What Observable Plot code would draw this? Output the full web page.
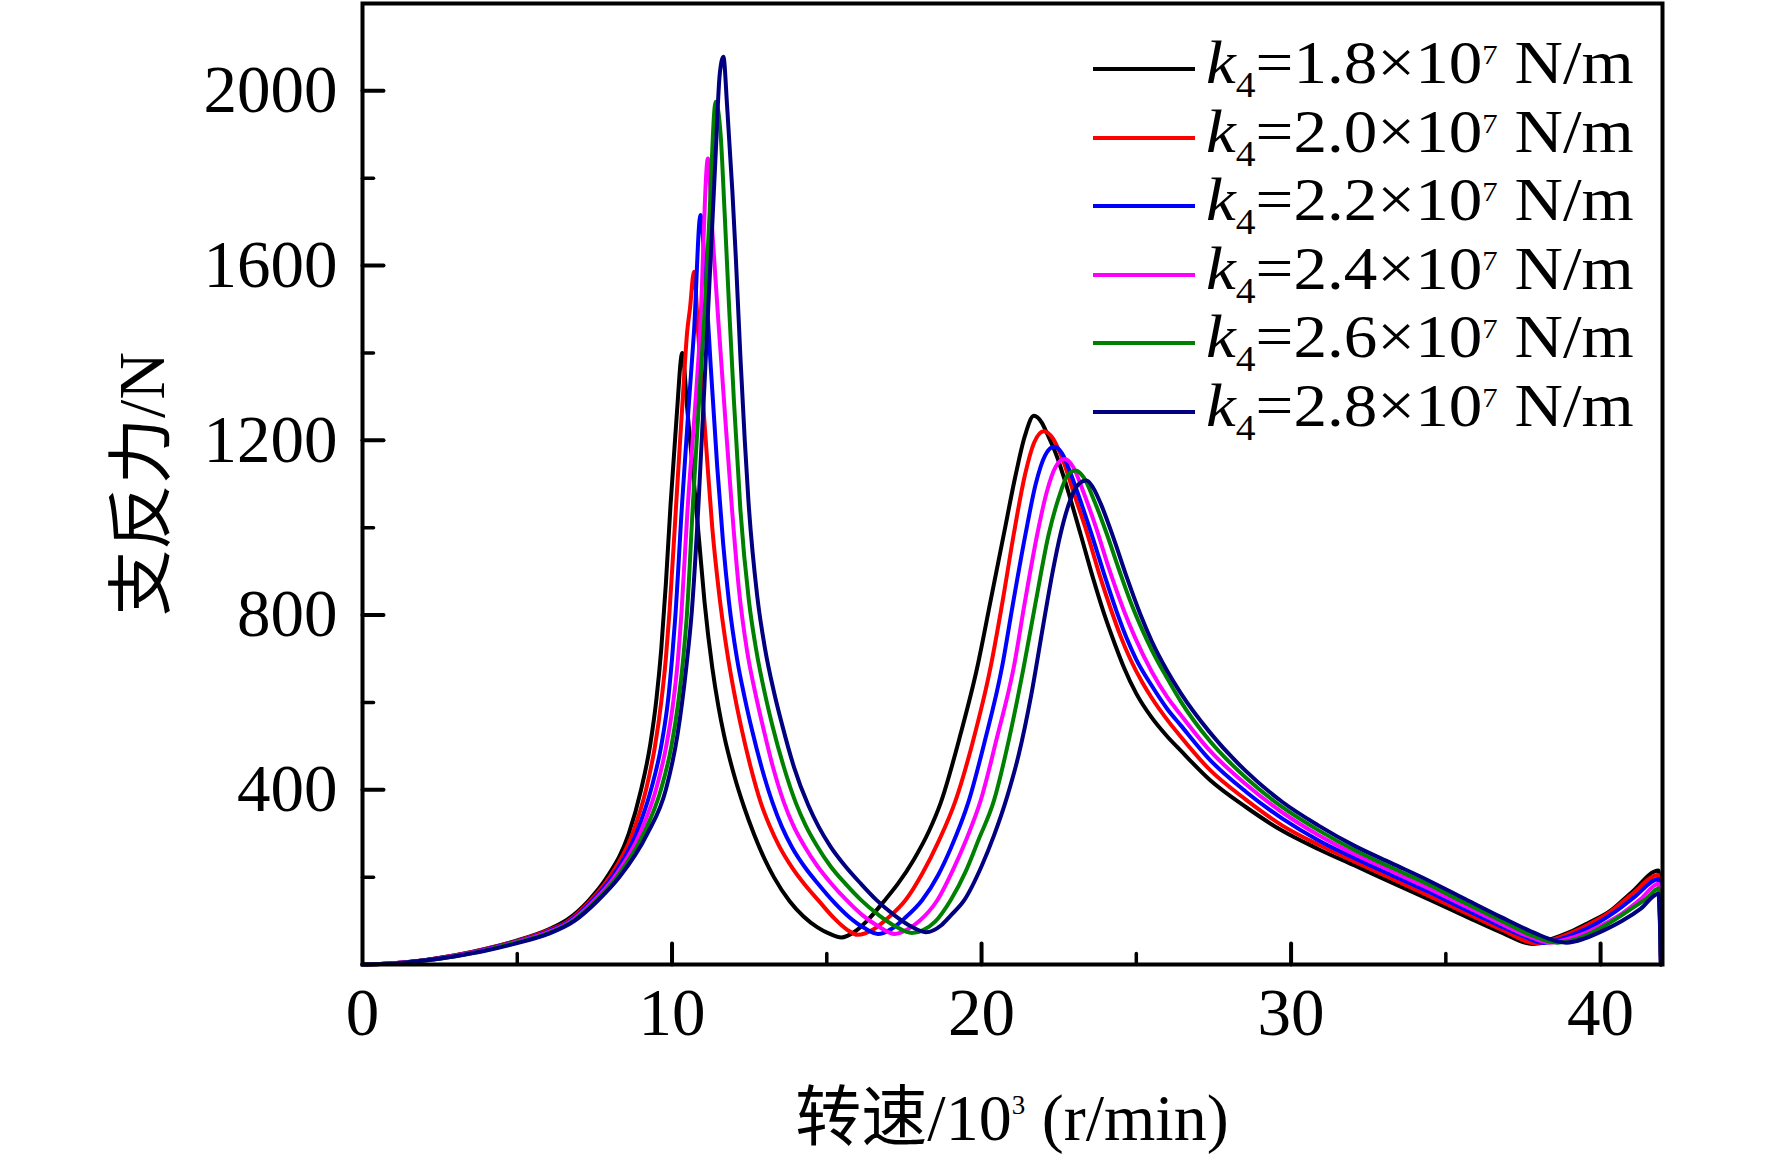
<!DOCTYPE html>
<html><head><meta charset="utf-8">
<script src="https://cdn.jsdelivr.net/npm/d3@7"></script>
<script src="https://cdn.jsdelivr.net/npm/@observablehq/plot@0.6"></script>
<style>
html,body{margin:0;padding:0;background:#fff;overflow:hidden;}
#wrap{position:relative;width:1772px;height:1157px;font-family:"Liberation Serif","Times New Roman","Noto Sans CJK SC",serif;color:#000;}
#wrap svg{position:absolute;left:0;top:0;}
.leg-line{position:absolute;height:4px;width:102px;}
.leg-text{position:absolute;font-size:61px;line-height:61px;white-space:nowrap;transform:scaleX(1.1);transform-origin:0 50%;}
.sub{font-size:36px;position:relative;top:14px;}
.sup{font-size:28px;position:relative;top:-19px;}
#xtitle{position:absolute;left:362px;width:1300px;text-align:center;font-size:66px;line-height:66px;white-space:nowrap;}
#xtitle .sup3{font-size:27px;position:relative;top:-26px;}
</style></head><body><div id="wrap"></div><script>
// 支反力 (N) versus 转速 (10^3 r/min), one array per k4 value: [speed, force]
const k18 = [[0,0],[1,3],[2,10],[3,21],[4,36],[5,55],[6,80],[6.6,102],[7.3,146],[7.9,200],[8.6,299],[9.0,400],[9.3,505],[9.5,610],[9.65,720],[9.8,870],[9.95,1050],[10.15,1255],[10.33,1400],
  [10.5,1265],[10.7,1110],[10.87,975],[11.05,830],[11.3,680],[11.5,590],[11.68,525],[12.0,435],[12.33,360],[12.64,300],[13.0,240],[13.29,200],[13.8,145],[14.25,110],[14.7,85],[15.1,70],[15.47,62],
  [15.9,75],[16.3,100],[16.85,145],[17.3,185],[17.81,240],[18.3,305],[18.68,370],[19.32,527],[19.86,680],[20.29,832],[20.72,985],[21.1,1120],[21.4,1210],[21.69,1256],
  [21.95,1240],[22.12,1215],[22.45,1160],[22.66,1115],[23.2,985],[23.6,885],[23.95,805],[24.3,735],[24.6,680],[25.0,620],[25.5,565],[26.0,522],[26.43,490],[27.37,423],[28.55,360],[29.72,306],[30.89,264],[32.07,226],[33.24,188],[34.42,150],[35.59,112],[36.77,74],[37.8,47],
  [38.4,58],[39.0,74],[39.6,95],[40.3,122],[41.0,165],[41.87,215],[41.95,0]];
const k20 = [[0,0],[1,3],[2,10],[3,21],[4,36],[5,54],[6,78],[6.65,100],[7.36,146],[7.98,200],[8.72,299],[9.16,400],[9.45,500],[9.65,600],[9.8,700],[9.92,809],[10.14,1061],[10.35,1300],[10.49,1449],[10.58,1502],[10.71,1586],
  [10.85,1440],[11.0,1290],[11.14,1150],[11.3,1000],[11.52,850],[11.77,720],[12.0,625],[12.23,545],[12.53,455],[12.87,370],[13.15,318],[13.47,270],[13.88,222],[14.3,182],[14.75,145],[15.25,105],[15.65,80],[16.0,68],
  [16.5,80],[17.0,108],[17.54,147],[18.1,210],[18.6,280],[19.16,375],[19.7,505],[20.29,680],[20.7,840],[21.04,985],[21.4,1120],[21.7,1195],[22.01,1221],
  [22.3,1205],[22.6,1160],[23.0,1075],[23.4,990],[23.8,895],[24.17,815],[24.5,750],[24.8,700],[25.2,645],[25.5,610],[26.0,560],[26.43,522],[27.37,446],[28.55,377],[29.72,318],[30.89,274],[32.07,235],[33.24,197],[34.42,158],[35.59,120],[36.77,81],[37.95,48],
  [38.5,58],[39.1,74],[39.7,95],[40.3,120],[41.0,160],[41.87,205],[41.95,0]];
const k22 = [[0,0],[1,3],[2,10],[3,20],[4,35],[5,53],[6,76],[6.7,100],[7.42,146],[8.06,200],[8.84,299],[9.32,400],[9.65,500],[9.88,610],[10.0,700],[10.1,790],[10.33,1061],[10.55,1290],[10.71,1449],[10.92,1716],
  [11.08,1570],[11.25,1370],[11.46,1140],[11.65,965],[11.84,830],[12.1,700],[12.35,610],[12.59,535],[12.9,450],[13.25,370],[13.55,315],[13.88,268],[14.3,222],[14.75,182],[15.2,145],[15.7,110],[16.2,84],[16.65,70],
  [17.1,82],[17.5,105],[18.08,147],[18.6,205],[19.0,265],[19.59,375],[20.1,510],[20.66,680],[21.0,820],[21.42,985],[21.75,1100],[22.05,1165],[22.34,1185],
  [22.6,1170],[22.9,1120],[23.25,1050],[23.6,975],[24.0,885],[24.38,805],[24.7,745],[25.0,698],[25.5,638],[26.0,585],[26.43,548],[27.37,469],[28.55,395],[29.72,334],[30.89,284],[32.07,243],[33.24,205],[34.42,167],[35.59,127],[36.77,88],[37.6,62],[38.15,49],
  [38.7,58],[39.3,74],[39.9,95],[40.5,122],[41.1,155],[41.87,195],[41.95,0]];
const k24 = [[0,0],[1,3],[2,9],[3,20],[4,34],[5,52],[6,74],[6.75,100],[7.48,146],[8.14,200],[8.96,299],[9.48,400],[9.8,495],[10.02,590],[10.18,690],[10.3,800],[10.5,1040],[10.75,1280],[10.9,1440],[11.16,1845],
  [11.3,1680],[11.5,1470],[11.72,1250],[11.94,1040],[12.16,860],[12.42,720],[12.68,625],[12.92,550],[13.25,455],[13.62,370],[13.92,318],[14.27,272],[14.7,225],[15.15,185],[15.6,150],[16.15,113],[16.65,88],[17.2,70],
  [17.6,80],[18.0,100],[18.57,147],[19.1,220],[19.5,285],[19.97,375],[20.5,520],[21.04,680],[21.4,830],[21.8,985],[22.1,1080],[22.4,1140],[22.68,1157],
  [22.95,1140],[23.3,1080],[23.7,1000],[24.1,910],[24.6,810],[24.95,750],[25.5,670],[26.0,612],[26.43,572],[27.37,490],[28.55,412],[29.72,348],[30.89,296],[32.07,252],[33.24,214],[34.42,175],[35.59,135],[36.77,94],[37.7,64],[38.35,50],
  [38.9,58],[39.5,72],[40.1,92],[40.7,117],[41.3,150],[41.87,185],[41.95,0]];
const k26 = [[0,0],[1,2],[2,9],[3,19],[4,33],[5,51],[6,72],[6.8,100],[7.54,146],[8.22,200],[9.08,299],[9.64,400],[9.98,500],[10.2,600],[10.36,700],[10.48,800],[10.68,1061],[10.9,1320],[11.05,1490],[11.2,1700],[11.41,1975],
  [11.57,1900],[11.7,1720],[11.84,1510],[12.0,1290],[12.21,1040],[12.48,835],[12.72,720],[13.0,620],[13.25,545],[13.6,455],[14.0,370],[14.32,318],[14.68,272],[15.12,225],[15.6,185],[16.1,148],[16.7,112],[17.2,88],[17.75,72],
  [18.1,78],[18.5,98],[19.0,147],[19.5,215],[19.9,285],[20.4,375],[20.9,520],[21.36,680],[21.75,830],[22.17,985],[22.5,1070],[22.78,1120],[23.04,1131],
  [23.3,1115],[23.65,1060],[24.05,985],[24.45,902],[24.87,820],[25.2,765],[25.5,720],[26.0,655],[26.43,603],[27.37,512],[28.55,427],[29.72,360],[30.89,307],[32.07,261],[33.24,222],[34.42,184],[35.59,142],[36.77,101],[37.8,66],[38.6,50],
  [39.2,58],[39.8,76],[40.4,100],[41.0,128],[41.5,152],[41.87,174],[41.95,0]];
const k28 = [[0,0],[1,2],[2,9],[3,19],[4,32],[5,49],[6,70],[6.85,100],[7.6,146],[8.3,200],[9.2,299],[9.8,400],[10.18,527],[10.46,680],[10.64,809],[10.86,1061],[11.05,1330],[11.25,1620],[11.4,1840],[11.54,2037],[11.66,2078],
  [11.78,1965],[11.95,1770],[12.06,1620],[12.21,1390],[12.35,1200],[12.47,1060],[12.75,845],[13.0,725],[13.29,625],[13.56,548],[13.94,452],[14.4,365],[14.74,315],[15.12,270],[15.6,225],[16.1,185],[16.6,148],[17.2,112],[17.7,88],[18.2,74],
  [18.7,90],[19.0,112],[19.43,146],[20.0,225],[20.4,295],[20.83,385],[21.2,480],[21.6,615],[22.0,780],[22.3,900],[22.55,985],[22.85,1060],[23.1,1097],[23.39,1108],
  [23.6,1092],[23.85,1055],[24.27,975],[24.7,885],[25.14,800],[25.5,740],[26.0,672],[26.43,622],[27.37,532],[28.55,442],[29.72,372],[30.89,318],[32.07,271],[33.24,232],[34.42,193],[35.59,151],[36.77,109],[37.94,70],[38.5,55],[38.9,50],
  [39.5,60],[40.1,78],[40.7,100],[41.3,128],[41.87,162],[41.95,0]];

const kValues = ["1.8", "2.0", "2.2", "2.4", "2.6", "2.8"];
const seriesColors = ["#000000", "#ff0000", "#0000ff", "#ff00ff", "#008000", "#000080"];
const xTickLabels = [0, 10, 20, 30, 40];
const xMinorTicks = [5, 15, 25, 35];
const xMajorTicks = [10, 20, 30, 40];
const yTickLabels = [400, 800, 1200, 1600, 2000];
const yMinorTicks = [200, 600, 1000, 1400, 1800];
const yTitle = "支反力/N";

const curves = [k18, k20, k22, k24, k26, k28];
const rows = curves.flatMap((pts, i) => pts.map(([s, f]) => ({speed: s, force: f, k: kValues[i]})));

const tickShape = {draw(ctx, l) { ctx.moveTo(0, 0); ctx.lineTo(0, -l); }};
const fontStack = '"Liberation Serif","Times New Roman","Noto Sans CJK SC",serif';

const plot = Plot.plot({
  width: 1772, height: 1157,
  marginLeft: 362, marginRight: 110, marginTop: 3, marginBottom: 193,
  style: {fontFamily: fontStack, fontSize: "67px", background: "transparent", color: "#000"},
  x: {domain: [0, 42]},
  y: {domain: [0, 2200]},
  color: {domain: kValues, range: seriesColors},
  marks: [
    Plot.line(rows, {x: "speed", y: "force", z: "k", stroke: "k", strokeWidth: 4, curve: "monotone-x"}),
    Plot.vector(yTickLabels, {x: 0, y: d => d, length: 21, rotate: 90, anchor: "start", shape: tickShape, stroke: "#000", strokeWidth: 4}),
    Plot.vector(yMinorTicks, {x: 0, y: d => d, length: 11, rotate: 90, anchor: "start", shape: tickShape, stroke: "#000", strokeWidth: 3.5}),
    Plot.vector(xMajorTicks, {x: d => d, y: 0, length: 21, rotate: 0, anchor: "start", shape: tickShape, stroke: "#000", strokeWidth: 4}),
    Plot.vector(xMinorTicks, {x: d => d, y: 0, length: 11, rotate: 0, anchor: "start", shape: tickShape, stroke: "#000", strokeWidth: 3.5}),
    Plot.axisX({ticks: xTickLabels, tickSize: 0, tickPadding: 23, tickFormat: d => String(d), label: null, fontSize: 67, fontFamily: fontStack}),
    Plot.axisY({ticks: yTickLabels, tickSize: 0, tickPadding: 25, tickFormat: d => String(d), label: null, fontSize: 67, fontFamily: fontStack}),
    Plot.frame({stroke: "#000", strokeWidth: 4}),
    Plot.text([yTitle], {text: d => d, frameAnchor: "left", textAnchor: "middle", lineAnchor: "middle", dx: -220, rotate: -90, fontSize: 66, fontFamily: fontStack, fill: "#000"})
  ]
});

const wrap = document.getElementById("wrap");
wrap.append(plot);

// legend (inside the frame, upper right)
kValues.forEach((kv, i) => {
  const rowY = 69 + 68.6 * i;
  const line = document.createElement("div");
  line.className = "leg-line";
  line.style.left = "1093px";
  line.style.top = (rowY - 2) + "px";
  line.style.background = seriesColors[i];
  wrap.append(line);
  const txt = document.createElement("div");
  txt.className = "leg-text";
  txt.style.left = "1206px";
  txt.style.top = (rowY - 37) + "px";
  txt.innerHTML = `<i>k</i><span class="sub">4</span>=${kv}×10<span class="sup">7</span> N/m`;
  wrap.append(txt);
});

const xt = document.createElement("div");
xt.id = "xtitle";
xt.style.top = "1085px";
xt.innerHTML = '转速/10<span class="sup3">3</span> (r/min)';
wrap.append(xt);
</script></body></html>
